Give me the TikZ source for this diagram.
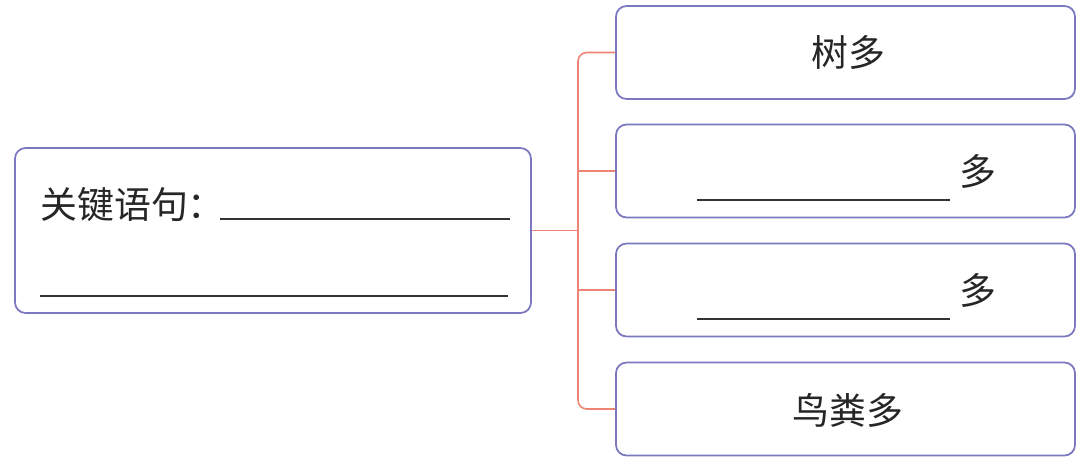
\documentclass[tikz,border=0pt]{standalone}
\usepackage{fontspec}
\newfontfamily\cjk{Noto Sans CJK SC}
\usepackage{xcolor}
\definecolor{frame}{HTML}{7B78C0}
\definecolor{branch}{HTML}{EE8474}
\usetikzlibrary{positioning, calc}

\begin{document}
\begin{tikzpicture}[
  card/.style={rectangle, rounded corners=6pt, draw=frame, line width=1pt, fill=white},
  word/.style={font=\cjk\fontsize{21}{25}\selectfont, text=black!85, inner sep=0pt},
  link/.style={draw=branch, line width=0.9pt},
  blank/.style={black!80, line width=0.8pt}
]
  \useasboundingbox (0,0) rectangle (21.7,-9.26);
  % left box
  \node[card, minimum width=10.32cm, minimum height=3.3cm] (key) at (5.46,-4.61) {};
  \node[word, anchor=base west] (keytext) at (0.8,-4.36) {关键语句：};
  \draw[blank] (4.4,-4.38) -- (10.2,-4.38);
  \draw[blank] (0.8,-5.92) -- (10.16,-5.92);
  % right boxes
  \foreach \name/\y in {shu/-1.05, blankA/-3.42, blankB/-5.8, bird/-8.18}
    \node[card, minimum width=9.18cm, minimum height=1.86cm] (\name) at (16.91,\y) {};
  \node[word] (shutext) at (16.96,-1.05) {树多};
  \node[word] (birdtext) at (16.96,-8.2) {鸟粪多};
  \foreach \name in {blankA, blankB}{
    \node[word] (\name text) at ($(\name)+(2.65,0)$) {多};
    \draw[blank] ($(\name)+(-2.97,-0.58)$) -- ($(\name)+(2.09,-0.58)$);
  }
  % connectors
  \coordinate (trunk) at (11.56,-4.61);
  \draw[link] (key.east) -- (trunk);
  \draw[link, rounded corners=5pt] (shu.west) -| (trunk) |- (bird.west);
  \draw[link] (blankA.west) -- (blankA.west -| trunk);
  \draw[link] (blankB.west) -- (blankB.west -| trunk);
\end{tikzpicture}
\end{document}
